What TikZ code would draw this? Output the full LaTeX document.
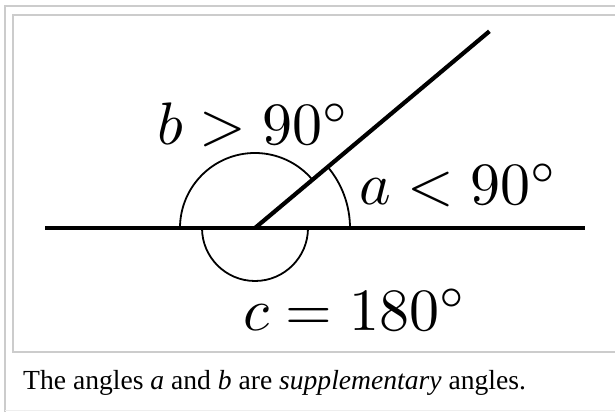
\documentclass[tikz,border=0pt]{standalone}
\usepackage{fontspec}
\usetikzlibrary{calc}
\newfontfamily\capfont{Liberation Serif}
\definecolor{framegray}{RGB}{204,204,204}
\definecolor{faintgray}{RGB}{238,238,238}
\tikzset{
  mainline/.style={line width=4.2pt, black},
  anglearc/.style={line width=1.8pt, black},
  frameline/.style={line width=2pt, framegray},
  mathlabel/.style={anchor=base west, inner sep=0pt, scale=6.0, font=\fontsize{10}{12}\selectfont},
  caplabel/.style={anchor=base west, inner sep=0pt, font=\capfont\fontsize{27.6}{32}\selectfont},
}
\begin{document}
\begin{tikzpicture}[x=1pt,y=1pt]
\useasboundingbox (0,0) rectangle (615,412);
\fill[white] (0,0) rectangle (615,412);
% frames
\draw[frameline] (5,0) -- (5,406) -- (615,406);
\draw[frameline] (615,397) -- (13,397) -- (13,60) -- (615,60);
\draw[line width=1pt, faintgray] (5,1.5) -- (615,1.5);
% geometry
\coordinate (O) at (255,184);
\coordinate (L) at (45,184);
\coordinate (R) at (585,184);
\coordinate (T) at ($(O)+(40:306)$);
\draw[mainline] (L) -- (R);
\draw[mainline] (O) -- (T);
\draw[anglearc] ($(O)+(180:75)$) arc[start angle=180, end angle=40, radius=75];
\draw[anglearc] ($(O)+(0:95)$) arc[start angle=0, end angle=40, radius=95];
\draw[anglearc] ($(O)+(180:53)$) arc[start angle=180, end angle=360, radius=53];
% labels
\node[mathlabel] (lb) at (156,267) {$b>90^\circ$};
\node[mathlabel] (la) at (358,207) {$a<90^\circ$};
\node[mathlabel] (lc) at (242,82) {$c=180^\circ$};
\node[caplabel] (cap) at (23,23) {The angles \textit{a} and \textit{b} are \textit{supplementary} angles.};
\end{tikzpicture}
\end{document}
